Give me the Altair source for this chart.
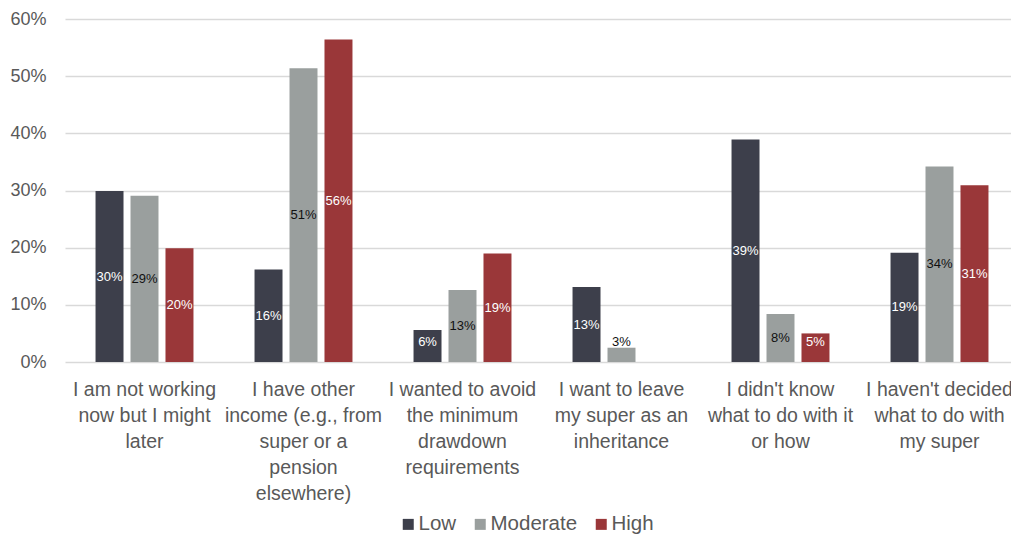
import altair as alt
import pandas as pd

# Reasons for not drawing down, by level of financial literacy (share of respondents, %)
categories = [
    "I am not working\nnow but I might\nlater",
    "I have other\nincome (e.g., from\nsuper or a\npension\nelsewhere)",
    "I wanted to avoid\nthe minimum\ndrawdown\nrequirements",
    "I want to leave\nmy super as an\ninheritance",
    "I didn't know\nwhat to do with it\nor how",
    "I haven't decided\nwhat to do with\nmy super",
]
series = ["Low", "Moderate", "High"]
low = [29.9, 16.2, 5.6, 13.1, 38.9, 19.1]
moderate = [29.1, 51.4, 12.6, 2.5, 8.4, 34.2]
high = [19.9, 56.4, 19.0, None, 5.0, 30.9]

colors = ["#3d3f4b", "#9a9f9e", "#9a3739"]

rows = []
for name, vals in zip(series, [low, moderate, high]):
    for cat, v in zip(categories, vals):
        rows.append({"category": cat, "series": name, "value": v})
df = pd.DataFrame(rows)

FONT = "Liberation Sans"
GREY = "#595959"

x_enc = alt.X(
    "category:N",
    sort=categories,
    scale=alt.Scale(paddingInner=0.34, paddingOuter=0.17, range=[0, 954]),
    axis=alt.Axis(
        title=None,
        domain=False,
        ticks=False,
        grid=False,
        labelAngle=0,
        labelExpr="split(datum.label, '\\n')",
        labelFont=FONT,
        labelFontSize=19.5,
        labelColor=GREY,
        labelLineHeight=26,
        labelBaseline="top",
        labelPadding=18,
        labelLimit=400,
        labelOverlap=False,
    ),
)
xoff_enc = alt.XOffset(
    "series:N", sort=series, scale=alt.Scale(paddingInner=0.2, paddingOuter=0.1)
)

bars = (
    alt.Chart(df)
    .mark_bar()
    .encode(
        x=x_enc,
        xOffset=xoff_enc,
        y=alt.Y(
            "value:Q",
            scale=alt.Scale(domain=[0, 60], nice=False),
            axis=alt.Axis(
                title=None,
                values=[0, 10, 20, 30, 40, 50, 60],
                labelExpr="datum.value + '%'",
                domain=False,
                ticks=False,
                grid=True,
                gridColor="#d9d9d9",
                gridWidth=1.6,
                labelFont=FONT,
                labelFontSize=18,
                labelColor=GREY,
                labelPadding=19,
            ),
        ),
        color=alt.Color(
            "series:N",
            sort=series,
            scale=alt.Scale(domain=series, range=colors),
            legend=alt.Legend(
                title=None,
                orient="none",
                direction="horizontal",
                legendX=333,
                legendY=495,
                symbolType="square",
                symbolSize=121,
                symbolStrokeWidth=0,
                labelFont=FONT,
                labelFontSize=20.5,
                labelColor=GREY,
                labelOffset=0,
                columnPadding=13,
            ),
        ),
    )
)

labels = (
    alt.Chart(df)
    .transform_filter("datum.value > 0")
    .transform_calculate(
        label="format(datum.value, '.0f') + '%'",
        ypos="max(datum.value / 2, 3.5)",
    )
    .mark_text(font=FONT, fontSize=13, baseline="middle", align="center")
    .encode(
        x=alt.X("category:N", sort=categories, title=None),
        xOffset=alt.XOffset("series:N", sort=series),
        y=alt.Y("ypos:Q", title=None),
        text="label:N",
        color=alt.condition(
            "datum.series == 'Moderate'", alt.value("#111111"), alt.value("#ffffff")
        ),
    )
)

chart = (
    alt.layer(bars, labels)
    .properties(
        width=946,
        height=343,
        background="white",
        autosize=alt.AutoSizeParams(type="none"),
        padding={"left": 65, "top": 19, "right": 0, "bottom": 173},
    )
    .configure_axis(domain=False, ticks=False)
    .configure_axisX(grid=False)
    .configure_view(strokeWidth=0)
)

chart.save("out.html", embed_options={"renderer": "svg", "actions": False})
